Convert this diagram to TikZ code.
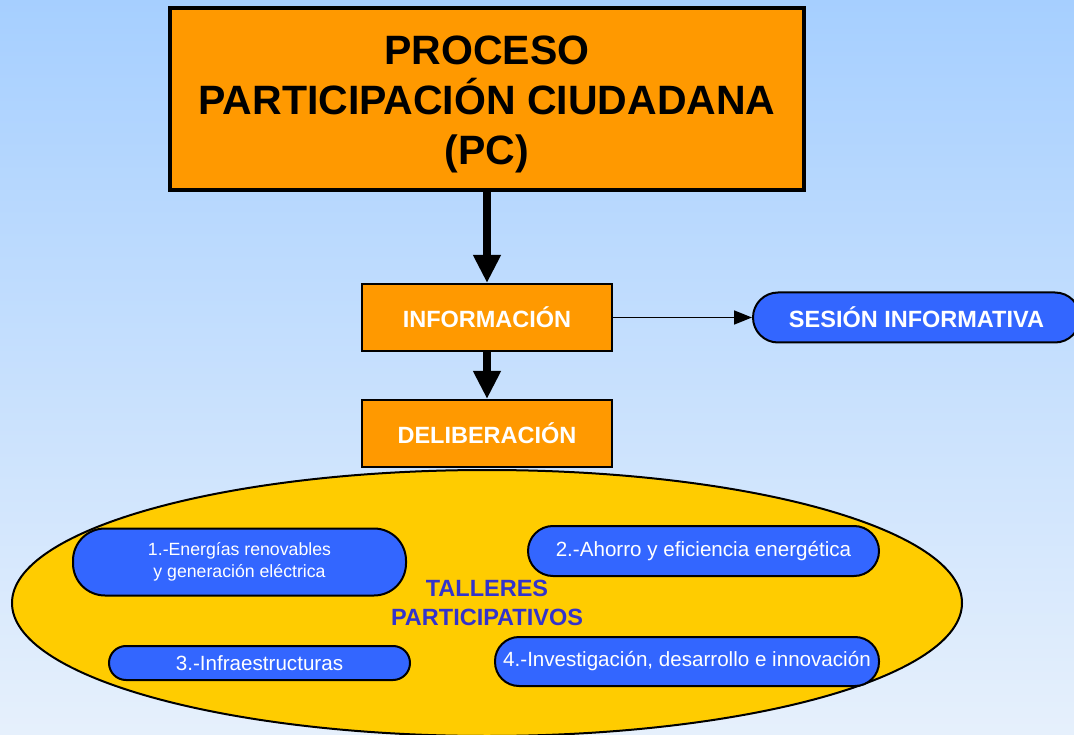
\documentclass[tikz,border=0pt]{standalone}
\usepackage{fontspec}
\setmainfont{Liberation Sans}
\usetikzlibrary{arrows.meta,shapes.geometric}
\definecolor{bgtop}{RGB}{166,207,255}
\definecolor{bgbot}{RGB}{230,240,252}
\definecolor{orng}{RGB}{255,153,0}
\definecolor{pillblue}{RGB}{51,102,255}
\definecolor{yel}{RGB}{255,204,0}
\definecolor{tallblue}{RGB}{51,51,204}
\tikzset{
  obox/.style={draw=black, fill=orng, line width=2pt, inner sep=0pt, font=\bfseries\fontsize{23.5}{28}\selectfont, text=white},
  pill/.style={draw=black, fill=pillblue, line width=2pt, inner sep=0pt, text=white, align=center},
  bigarrow/.style={line width=8pt, -{Triangle[width=26pt,length=28pt]}},
  thinarrow/.style={line width=1.8pt, -{Triangle[width=14pt,length=18pt]}},
}
\begin{document}
\begin{tikzpicture}[x=1pt,y=-1pt]
\shade[top color=bgtop, bottom color=bgbot] (0,0) rectangle (1074,735);
\useasboundingbox (0,0) rectangle (1074,735);
\node[draw=black, fill=orng, line width=4pt, minimum width=634pt, minimum height=182pt, inner sep=0pt, font=\bfseries\fontsize{41}{50}\selectfont] (top) at (487,99) {\raisebox{-12pt}[0pt][0pt]{\parbox{620pt}{\centering PROCESO\\PARTICIPACIÓN CIUDADANA\\(PC)}}};
\node[draw=black, fill=yel, line width=2pt, ellipse, minimum width=950pt, minimum height=266pt, inner sep=0pt] (ell) at (487,603) {};
\node[obox, minimum width=250pt, minimum height=67pt] (info) at (487,317.5) {INFORMACIÓN};
\node[obox, minimum width=250pt, minimum height=67pt] (delib) at (487,433.5) {DELIBERACIÓN};
\node[pill, minimum width=327pt, minimum height=50pt, rounded corners=25pt, font=\bfseries\fontsize{23.5}{28}\selectfont] (ses) at (916.5,317.5) {SESIÓN INFORMATIVA};
\draw[bigarrow] (top.south) -- (info.north);
\draw[bigarrow] (info.south) -- (delib.north);
\draw[thinarrow] (info.east) -- (ses.west);
\node[align=center, text=tallblue, font=\bfseries\fontsize{23.5}{29}\selectfont] (tall) at (487,603) {TALLERES\\PARTICIPATIVOS};
\node[pill, minimum width=333pt, minimum height=67pt, rounded corners=32pt, font=\fontsize{17.7}{22}\selectfont] (p1) at (239.5,562) {1.-Energías renovables\\y generación eléctrica};
\node[pill, minimum width=351pt, minimum height=50pt, rounded corners=25pt, font=\fontsize{20.6}{24}\selectfont] (p2) at (703.5,551) {2.-Ahorro y eficiencia energética};
\node[pill, minimum width=301pt, minimum height=34pt, rounded corners=17pt, font=\fontsize{20.6}{24}\selectfont] (p3) at (259.5,663) {3.-Infraestructuras};
\node[pill, minimum width=384pt, minimum height=49pt, rounded corners=24pt, font=\fontsize{20.6}{24}\selectfont] (p4) at (687,661.5) {4.-Investigación, desarrollo e innovación};
\end{tikzpicture}
\end{document}
